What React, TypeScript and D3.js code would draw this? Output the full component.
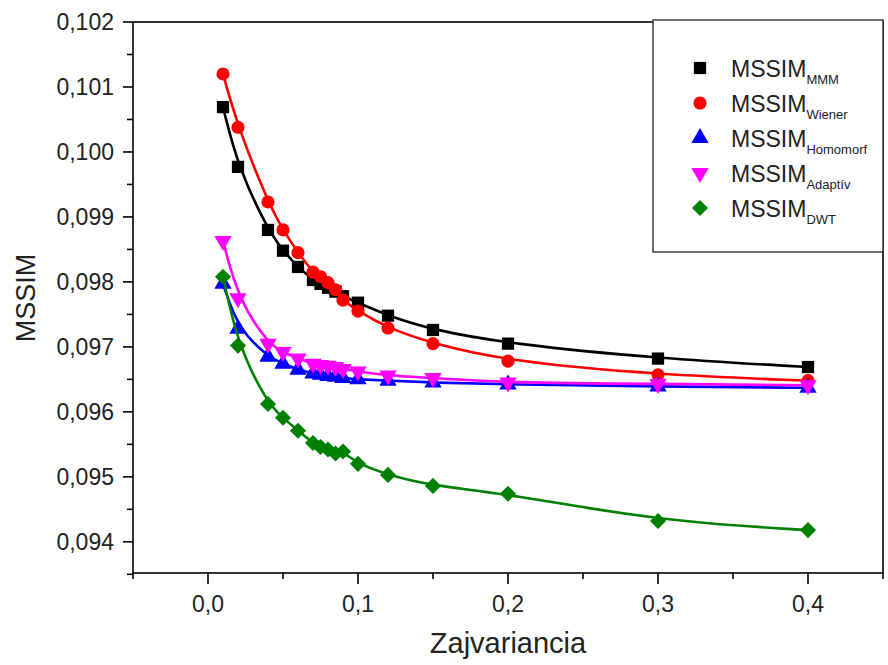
import React from "react";
import * as d3 from "d3";

// Noise variance (x) shared by every series
const noiseVariance = [0.01, 0.02, 0.04, 0.05, 0.06, 0.07, 0.075, 0.08, 0.085, 0.09, 0.1, 0.12, 0.15, 0.2, 0.3, 0.4];

const mssimMMM = [0.10069, 0.09977, 0.0988, 0.09848, 0.09823, 0.09803, 0.09797, 0.09791, 0.09785, 0.09778, 0.09768, 0.09748, 0.09726, 0.09705, 0.09682, 0.09669];
const mssimWiener = [0.1012, 0.10038, 0.09923, 0.0988, 0.09845, 0.09815, 0.09808, 0.09799, 0.09788, 0.09772, 0.09755, 0.09729, 0.09705, 0.09678, 0.09657, 0.09648];
const mssimHomomorf = [0.09797, 0.09728, 0.09685, 0.09674, 0.09665, 0.09659, 0.09657, 0.09655, 0.09654, 0.09652, 0.0965, 0.09648, 0.09645, 0.09642, 0.09639, 0.09637];
const mssimAdaptiv = [0.09863, 0.09775, 0.09705, 0.09692, 0.09682, 0.09674, 0.09672, 0.09671, 0.09669, 0.09666, 0.09662, 0.09656, 0.09652, 0.09645, 0.09643, 0.09641];
const mssimDWT = [0.09808, 0.09702, 0.09612, 0.09591, 0.09571, 0.09552, 0.09546, 0.09542, 0.09536, 0.09539, 0.0952, 0.09503, 0.09486, 0.09474, 0.09432, 0.09418];

const xTicks = [0, 0.1, 0.2, 0.3, 0.4];
const xTickLabels = ["0,0", "0,1", "0,2", "0,3", "0,4"];
const yTicks = [0.094, 0.095, 0.096, 0.097, 0.098, 0.099, 0.1, 0.101, 0.102];
const yTickLabels = ["0,094", "0,095", "0,096", "0,097", "0,098", "0,099", "0,100", "0,101", "0,102"];

const seriesNames = ["MMM", "Wiener", "Homomorf", "Adaptív", "DWT"];
const seriesColors = ["#000000", "#ff0000", "#0000ff", "#ff00ff", "#008000"];
const seriesShapes = ["square", "circle", "triangle", "triangleDown", "diamond"];
const seriesValues = [mssimMMM, mssimWiener, mssimHomomorf, mssimAdaptiv, mssimDWT];

const W = 888;
const H = 665;
const left = 133;
const right = 883;
const top = 22;
const bottom = 573;
const font = "'Liberation Sans', Arial, sans-serif";

const x = d3.scaleLinear().domain([-0.05, 0.45]).range([left, right]);
const y = d3.scaleLinear().domain([0.09352, 0.102]).range([bottom, top]);

const symbolFor: Record<string, { type: d3.SymbolType; size: number; rotate: number }> = {
  square: { type: d3.symbolSquare, size: 150, rotate: 0 },
  circle: { type: d3.symbolCircle, size: 135, rotate: 0 },
  triangle: { type: d3.symbolTriangle, size: 130, rotate: 0 },
  triangleDown: { type: d3.symbolTriangle, size: 130, rotate: 180 },
  diamond: { type: d3.symbolSquare, size: 130, rotate: 45 },
};

function Marker({ shape, color, cx, cy }: { shape: string; color: string; cx: number; cy: number }) {
  const s = symbolFor[shape];
  const d = d3.symbol().type(s.type).size(s.size)() as string;
  return <path d={d} fill={color} transform={`translate(${cx},${cy}) rotate(${s.rotate})`} />;
}

export default function App() {
  // smooth trend curve through each series
  const line = d3
    .line<number>()
    .x((_, i) => x(noiseVariance[i]))
    .y((v) => y(v))
    .curve(d3.curveBasis);

  const xMinor = d3.range(-0.05, 0.4501, 0.05).filter((v) => !xTicks.some((t) => Math.abs(t - v) < 1e-9));
  const yMinor = d3.range(0.0935, 0.1021, 0.0005).filter((v) => !yTicks.some((t) => Math.abs(t - v) < 1e-9));

  const legendX = 653;
  const legendY = 20;
  const legendRows = [68, 103, 138, 173, 208];

  return (
    <svg width={W} height={H} style={{ position: "absolute", left: 0, top: 0, background: "#fff" }} fontFamily={font}>
      {/* frame */}
      <rect x={left} y={top} width={right - left} height={bottom - top} fill="none" stroke="#000" strokeWidth={1.6} />

      {/* y axis ticks */}
      {yTicks.map((t, i) => (
        <g key={"yt" + i}>
          <line x1={left - 10} x2={left} y1={y(t)} y2={y(t)} stroke="#000" strokeWidth={1.6} />
          <text x={114} y={y(t)} dy="0.35em" textAnchor="end" fontSize={23} fill="#222">
            {yTickLabels[i]}
          </text>
        </g>
      ))}
      {yMinor.map((t, i) => (
        <line key={"ym" + i} x1={left - 6} x2={left} y1={y(t)} y2={y(t)} stroke="#000" strokeWidth={1.6} />
      ))}

      {/* x axis ticks */}
      {xTicks.map((t, i) => (
        <g key={"xt" + i}>
          <line x1={x(t)} x2={x(t)} y1={bottom} y2={bottom + 11} stroke="#000" strokeWidth={1.6} />
          <text x={x(t)} y={612} textAnchor="middle" fontSize={23} fill="#222">
            {xTickLabels[i]}
          </text>
        </g>
      ))}
      {xMinor.map((t, i) => (
        <line key={"xm" + i} x1={x(t)} x2={x(t)} y1={bottom} y2={bottom + 6} stroke="#000" strokeWidth={1.6} />
      ))}

      {/* axis titles */}
      <text x={(left + right) / 2} y={653} textAnchor="middle" fontSize={29} fill="#222">
        Zajvariancia
      </text>
      <text transform={`translate(35,298) rotate(-90)`} textAnchor="middle" fontSize={27} fill="#222">
        MSSIM
      </text>

      {/* series */}
      {seriesValues.map((vals, si) => (
        <g key={"s" + si}>
          <path d={line(vals) as string} fill="none" stroke={seriesColors[si]} strokeWidth={2.6} />
          {vals.map((v, i) => (
            <Marker key={i} shape={seriesShapes[si]} color={seriesColors[si]} cx={x(noiseVariance[i])} cy={y(v)} />
          ))}
        </g>
      ))}

      {/* legend */}
      <rect x={legendX} y={legendY} width={right - legendX} height={232} fill="#fff" stroke="#333" strokeWidth={1.4} />
      {seriesNames.map((name, i) => (
        <g key={"lg" + i}>
          <Marker shape={seriesShapes[i]} color={seriesColors[i]} cx={700} cy={legendRows[i]} />
          <text x={731} y={legendRows[i] + 9} fontSize={23} fill="#222">
            MSSIM
            <tspan fontSize={13} dy={7}>
              {name}
            </tspan>
          </text>
        </g>
      ))}
    </svg>
  );
}
